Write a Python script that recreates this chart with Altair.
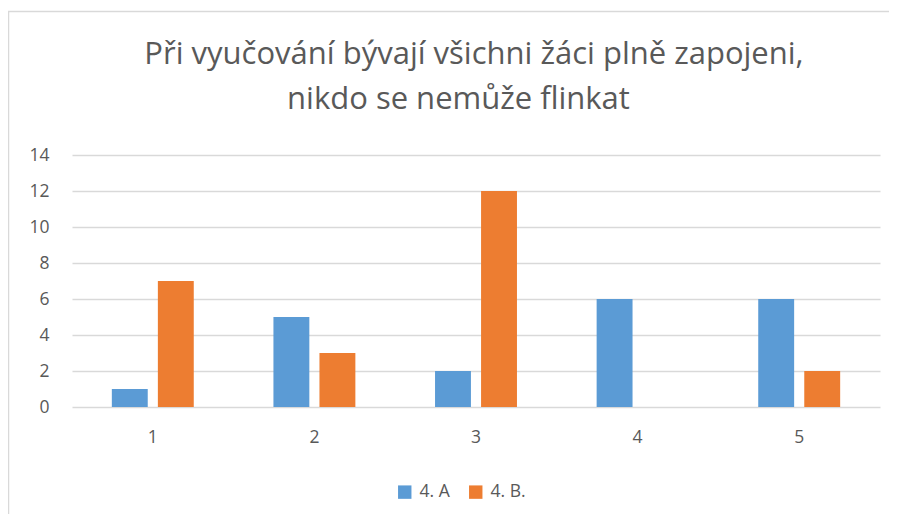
import altair as alt
import pandas as pd

categories = ["1", "2", "3", "4", "5"]
series_names = ["4. A", "4. B."]
values_a = [1, 5, 2, 6, 6]
values_b = [7, 3, 12, 0, 2]
title_lines = ["Při vyučování bývají všichni žáci plně zapojeni,", "nikdo se nemůže flinkat"]
y_ticks = [0, 2, 4, 6, 8, 10, 12, 14]
colors = ["#5b9bd5", "#ed7d31"]

rows = []
for c, a, b in zip(categories, values_a, values_b):
    rows.append({"kat": c, "serie": series_names[0], "hodnota": a})
    rows.append({"kat": c, "serie": series_names[1], "hodnota": b})
df = pd.DataFrame(rows)

FONT = "Open Sans"
GRAY = "#595959"
LBL = 17.5

bars = alt.Chart(df).mark_bar().encode(
    x=alt.X("kat:N", sort=categories, title=None,
            scale=alt.Scale(paddingInner=0.493, paddingOuter=0.2465),
            axis=alt.Axis(labelAngle=0, ticks=False, tickSize=0, domain=False, grid=False,
                          labelPadding=21, labelFontSize=LBL, labelColor=GRAY, labelFont=FONT)),
    xOffset=alt.XOffset("serie:N", sort=series_names,
                        scale=alt.Scale(paddingInner=0.22, paddingOuter=0)),
    y=alt.Y("hodnota:Q", title=None,
            scale=alt.Scale(domain=[0, 14], nice=False),
            axis=alt.Axis(values=y_ticks, ticks=False, tickSize=0, domain=False,
                          labelPadding=23, labelFontSize=LBL, labelColor=GRAY, labelFont=FONT,
                          gridColor="#d9d9d9", gridWidth=1.5)),
    color=alt.Color("serie:N", sort=series_names,
                    scale=alt.Scale(domain=series_names, range=colors),
                    legend=alt.Legend(title=None, orient="none", direction="horizontal",
                                      legendX=324, legendY=328, symbolType="square",
                                      symbolSize=180, symbolStrokeWidth=0, labelFontSize=LBL,
                                      labelColor=GRAY, labelFont=FONT, labelOffset=6,
                                      columnPadding=17, padding=0)),
)

border = alt.Chart(pd.DataFrame({"b": [0]})).mark_rect(
    fill=None, stroke="#d9d9d9", strokeWidth=1.5
).encode(
    x=alt.value(-63.5), x2=alt.value(900), y=alt.value(-143.5), y2=alt.value(500)
)

title_1 = alt.Chart(pd.DataFrame({"t": [title_lines[0]]})).mark_text(
    font=FONT, fontSize=31, color=GRAY, align="center", baseline="alphabetic"
).encode(text="t:N", x=alt.value(402), y=alt.value(-91))

title_2 = alt.Chart(pd.DataFrame({"t": [title_lines[1]]})).mark_text(
    font=FONT, fontSize=31, color=GRAY, align="center", baseline="alphabetic"
).encode(text="t:N", x=alt.value(386.5), y=alt.value(-46))

chart = alt.layer(border, bars, title_1, title_2).properties(
    width=808, height=252,
    autosize=alt.AutoSizeParams(type="none"),
    padding={"left": 64, "top": 147, "right": 9, "bottom": 107},
).configure_view(stroke=None)

chart.save("out.html", embed_options={"renderer": "svg", "actions": False})
